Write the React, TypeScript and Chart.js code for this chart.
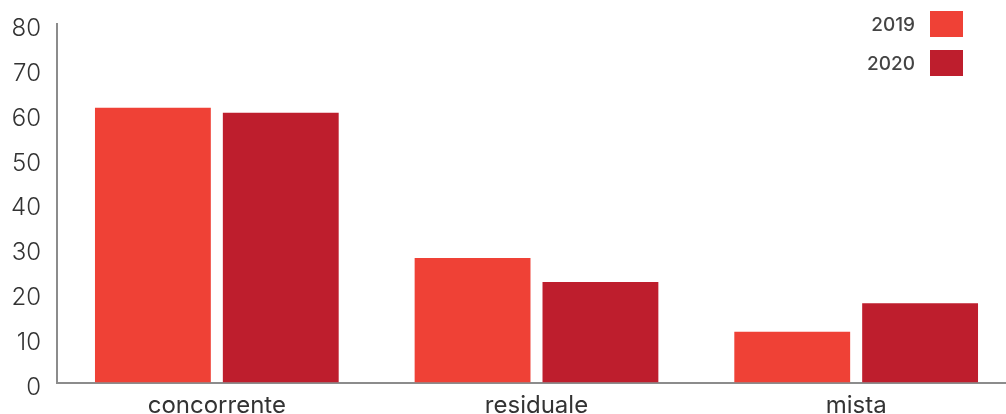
import React, { useEffect, useRef } from "react";
import { Chart, registerables } from "chart.js";

Chart.register(...registerables);

const categories = ["concorrente", "residuale", "mista"];
const seriesLabels = ["2019", "2020"];
const values2019 = [61.3, 27.8, 11.3];
const values2020 = [60.2, 22.4, 17.7];
const colors = ["#EF4136", "#BE1E2D"];
const yTicks = [0, 10, 20, 30, 40, 50, 60, 70, 80];

const FONT = "Inter, 'Open Sans', sans-serif";

const legendPlugin = {
  id: "customLegend",
  afterDraw(chart: any) {
    const ctx = chart.ctx;
    ctx.save();
    chart.data.datasets.forEach((ds: any, i: number) => {
      const boxX = 930;
      const boxY = 11 + i * 39;
      const boxW = 33;
      const boxH = 26;
      ctx.fillStyle = ds.backgroundColor;
      ctx.fillRect(boxX, boxY, boxW, boxH);
      ctx.fillStyle = "#444444";
      ctx.font = `500 19px ${FONT}`;
      ctx.textAlign = "right";
      ctx.textBaseline = "middle";
      ctx.fillText(ds.label, boxX - 15, boxY + boxH / 2 + 1);
    });
    ctx.restore();
  },
};

export default function App() {
  const ref = useRef<HTMLCanvasElement>(null);
  useEffect(() => {
    document.body.style.margin = "0";
    const chart = new Chart(ref.current!, {
      type: "bar",
      data: {
        labels: categories,
        datasets: [
          { label: seriesLabels[0], data: values2019, backgroundColor: colors[0] },
          { label: seriesLabels[1], data: values2020, backgroundColor: colors[1] },
        ],
      },
      options: {
        animation: false,
        responsive: false,
        layout: { padding: { top: 24, right: 0, bottom: 0, left: 0 } },
        datasets: {
          bar: { categoryPercentage: 0.8, barPercentage: 0.906 },
        } as any,
        plugins: {
          legend: { display: false },
          tooltip: { enabled: false },
        },
        scales: {
          x: {
            grid: { display: false, drawTicks: false },
            border: { display: true, color: "#8C8C8C", width: 2 },
            ticks: {
              color: "#333333",
              font: { family: FONT, size: 24, weight: "400" as any },
              padding: 9,
              maxRotation: 0,
            },
            afterFit(scale: any) {
              scale.height = 37.5;
              scale.paddingLeft = 0;
              scale.paddingRight = 0;
            },
          },
          y: {
            min: 0,
            max: 80,
            afterBuildTicks(scale: any) {
              scale.ticks = yTicks.map((v) => ({ value: v }));
            },
            grid: { display: false, drawTicks: false },
            border: { display: true, color: "#8C8C8C", width: 2 },
            ticks: {
              color: "#333333",
              font: { family: FONT, size: 24, weight: "300" as any },
              padding: 16,
              labelOffset: 5,
            },
            afterFit(scale: any) {
              scale.width = 57;
              scale.paddingTop = 0;
              scale.paddingBottom = 0;
            },
          },
        },
      },
      plugins: [legendPlugin],
    });
    return () => chart.destroy();
  }, []);
  return (
    <div style={{ width: 1006, height: 414, overflow: "hidden", background: "#fff" }}>
      <canvas ref={ref} width={1016} height={420} style={{ display: "block" }} />
    </div>
  );
}
